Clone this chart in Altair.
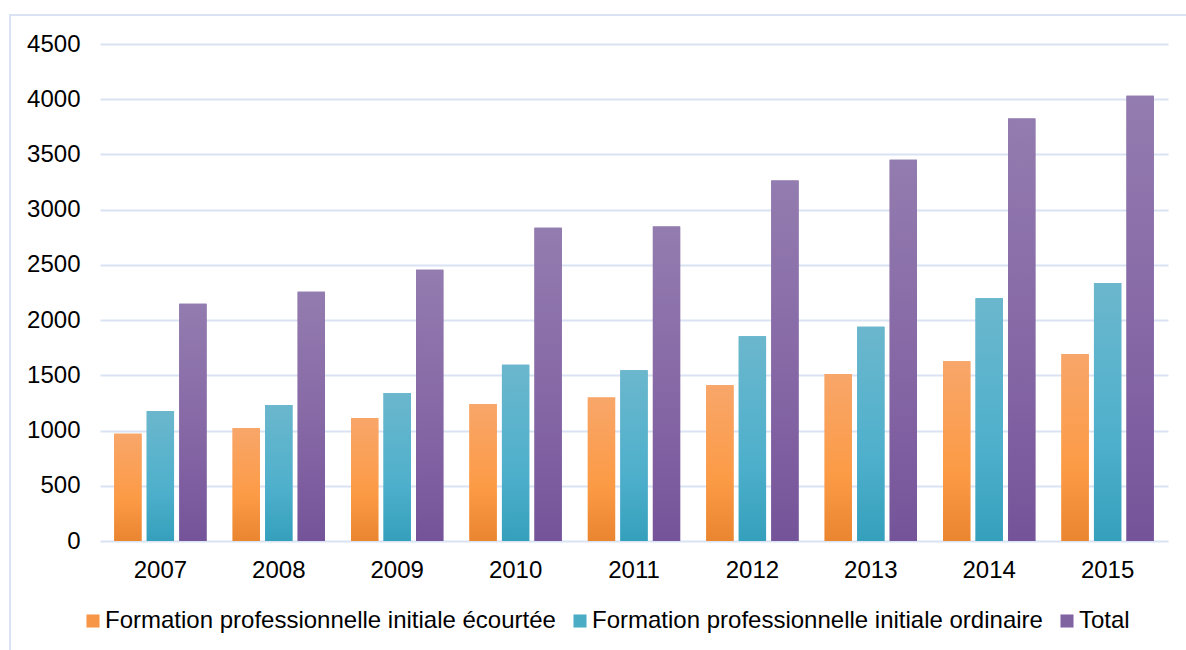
import altair as alt
import pandas as pd

# Effectifs par année et par type de formation
years = ["2007", "2008", "2009", "2010", "2011", "2012", "2013", "2014", "2015"]
ecourtee = [970, 1024, 1114, 1241, 1300, 1410, 1513, 1628, 1694]
ordinaire = [1178, 1232, 1341, 1595, 1547, 1854, 1939, 2198, 2337]
total = [2148, 2256, 2455, 2836, 2847, 3264, 3452, 3826, 4031]

series = [
    "Formation professionnelle initiale écourtée",
    "Formation professionnelle initiale ordinaire",
    "Total",
]
solid_colors = ["#f79646", "#4bacc6", "#8064a2"]
gradients = [
    [("#f8a66a", 0.0), ("#fc9b46", 0.6), ("#ea8530", 1.0)],
    [("#6bb7cd", 0.0), ("#4fb0cc", 0.6), ("#35a0bc", 1.0)],
    [("#937caf", 0.0), ("#8465a4", 0.6), ("#755399", 1.0)],
]

rows = []
for name, values in zip(series, [ecourtee, ordinaire, total]):
    for year, v in zip(years, values):
        rows.append({"annee": year, "serie": name, "valeur": v})
df = pd.DataFrame(rows)

GRID = "#d9e3f3"
FS = 24

x_enc = alt.X(
    "annee:N",
    sort=years,
    scale=alt.Scale(paddingInner=0.22, paddingOuter=0.12),
    axis=alt.Axis(
        title=None, labelAngle=0, ticks=False, domain=False, grid=False,
        labelFontSize=FS, labelColor="#000000", labelPadding=17,
    ),
)
xoff_enc = alt.XOffset(
    "serie:N", sort=series,
    scale=alt.Scale(domain=series, paddingInner=0.16, paddingOuter=0),
)
y_enc = alt.Y(
    "valeur:Q",
    scale=alt.Scale(domain=[0, 4500], nice=False),
    axis=alt.Axis(
        title=None, values=list(range(0, 4501, 500)), format="d",
        ticks=False, domain=False,
        grid=True, gridColor=GRID, gridWidth=2,
        labelFontSize=FS, labelColor="#000000", labelPadding=20,
    ),
)

base = alt.Chart(df)

# Solid bars carry the legend; gradient bars are drawn on top of them
legend_bars = base.mark_bar().encode(
    x=x_enc,
    xOffset=xoff_enc,
    y=y_enc,
    color=alt.Color(
        "serie:N",
        sort=series,
        scale=alt.Scale(domain=series, range=solid_colors),
        legend=alt.Legend(
            title=None, orient="none", direction="horizontal",
            legendX=-19, legendY=565,
            symbolType="square", symbolSize=170, symbolStrokeWidth=0,
            labelFontSize=FS, labelColor="#000000", labelLimit=900,
            labelOffset=0, columnPadding=12,
        ),
    ),
)

layers = [legend_bars]
for name, stops in zip(series, gradients):
    grad = alt.Gradient(
        gradient="linear",
        stops=[alt.GradientStop(color=c, offset=o) for c, o in stops],
        x1=0, x2=0, y1=0, y2=1,
    )
    layers.append(
        base.transform_filter(alt.datum.serie == name)
        .mark_bar(color=grad)
        .encode(x=x_enc, xOffset=xoff_enc, y=y_enc)
    )

# Light frame around the whole figure
frame = alt.Chart(pd.DataFrame({"k": [0]})).mark_rect(
    fill=None, stroke=GRID, strokeWidth=2
).encode(
    x=alt.value(-90), x2=alt.value(1120), y=alt.value(-29), y2=alt.value(640)
)

chart = alt.layer(frame, *layers).properties(
    width=1068,
    height=497,
    padding={"left": 100, "top": 44, "right": 18, "bottom": 109},
    autosize=alt.AutoSizeParams(type="none"),
    background="#ffffff",
).configure(
    font="Liberation Sans",
).configure_view(
    stroke=None,
)

chart.save("out.html", embed_options={"renderer": "svg", "actions": False})
